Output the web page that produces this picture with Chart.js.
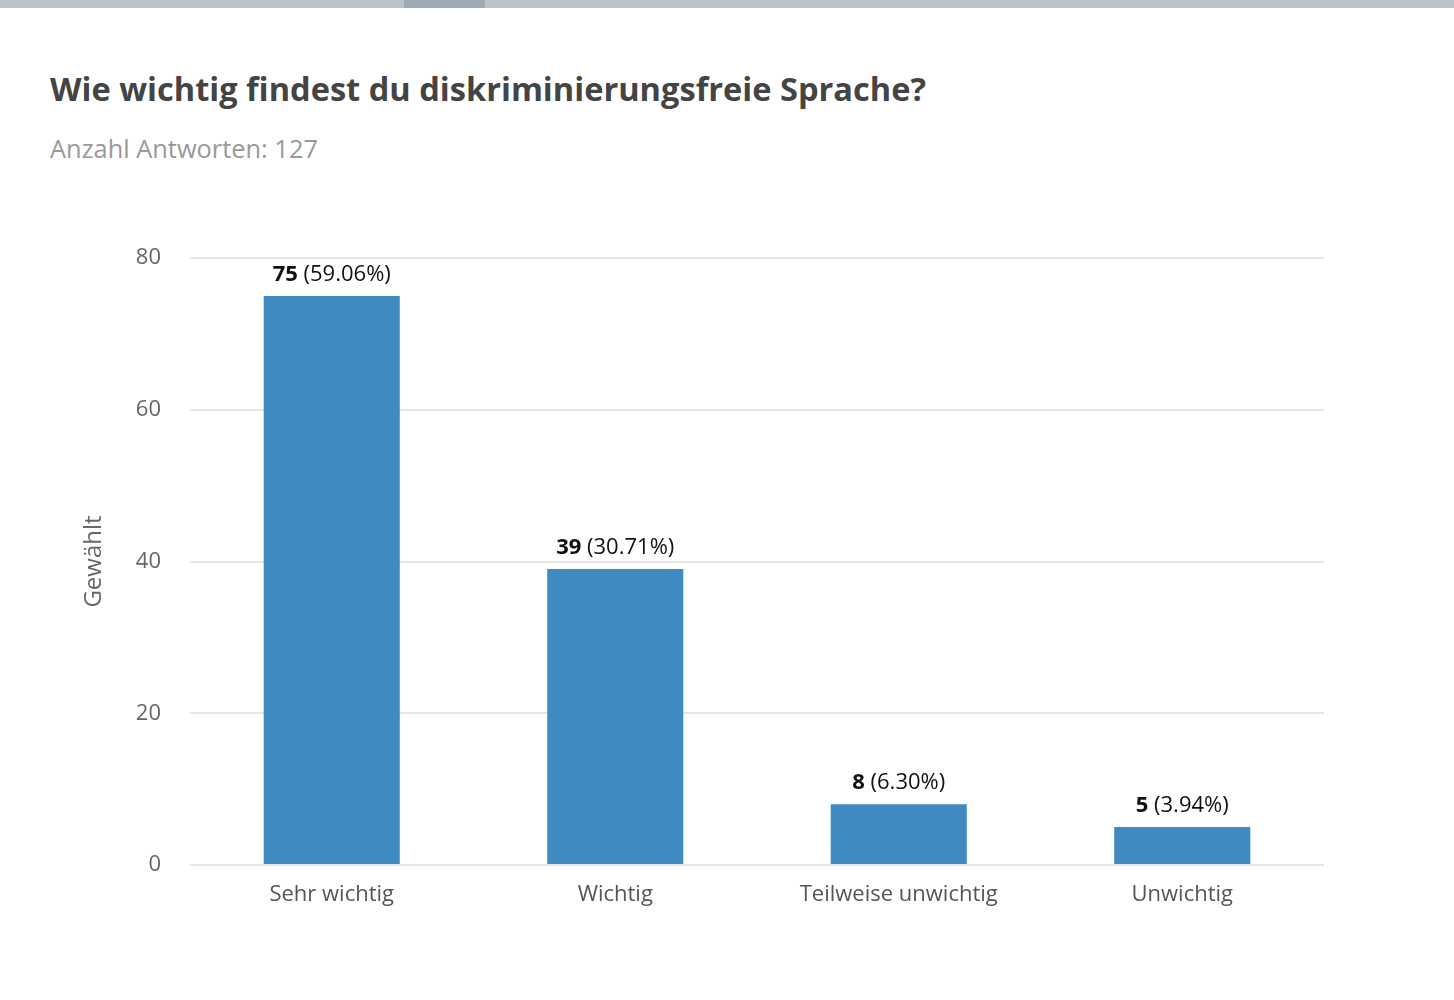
<!DOCTYPE html>
<html>
<head>
<meta charset="utf-8">
<script src="https://cdn.jsdelivr.net/npm/chart.js@4/dist/chart.umd.min.js"></script>
<style>
  body { margin: 0; background: #fff; font-family: "Open Sans", sans-serif; }
  #page { position: relative; width: 1454px; height: 1000px; overflow: hidden; }
  #topbar { position: absolute; left: 0; top: 0; width: 1454px; height: 8px; background: #b9c3c9; }
  #topbar div { position: absolute; left: 404px; top: 0; width: 81px; height: 8px; background: #9fabb4; }
  #title { position: absolute; left: 50px; top: 66px; font-size: 32.6px; font-weight: 700; color: #444; white-space: nowrap; }
  #subtitle { position: absolute; left: 50px; top: 131px; font-size: 25.4px; color: #999; white-space: nowrap; }
  #wrap { position: absolute; left: 0; top: 200px; width: 1454px; height: 760px; }
</style>
</head>
<body>
<div id="page">
  <div id="topbar"><div></div></div>
  <div id="title">Wie wichtig findest du diskriminierungsfreie Sprache?</div>
  <div id="subtitle">Anzahl Antworten: 127</div>
  <div id="wrap"><canvas id="myChart"></canvas></div>
</div>
<script>
// answers and counts
const categories = ['Sehr wichtig', 'Wichtig', 'Teilweise unwichtig', 'Unwichtig'];
const counts = [75, 39, 8, 5];
const percentLabels = ['59.06%', '30.71%', '6.30%', '3.94%'];
const yTicks = [0, 20, 40, 60, 80];

// value labels above the bars: bold count + normal percentage
const barLabels = {
    id: 'barLabels',
    afterDatasetsDraw(chart) {
        const ctx = chart.ctx;
        const meta = chart.getDatasetMeta(0);
        ctx.save();
        ctx.textBaseline = 'alphabetic';
        ctx.textAlign = 'left';
        ctx.fillStyle = '#111';
        meta.data.forEach((bar, i) => {
            const boldText = String(counts[i]);
            const normText = ' (' + percentLabels[i] + ')';
            ctx.font = 'bold 22px "Open Sans"';
            const w1 = ctx.measureText(boldText).width;
            ctx.font = '22px "Open Sans"';
            const w2 = ctx.measureText(normText).width;
            const x0 = bar.x - (w1 + w2) / 2;
            const y = bar.y - 15;
            ctx.font = 'bold 22px "Open Sans"';
            ctx.fillText(boldText, x0, y);
            ctx.font = '22px "Open Sans"';
            ctx.fillText(normText, x0 + w1, y);
        });
        ctx.restore();
    }
};

const ctx = document.getElementById('myChart').getContext('2d');
new Chart(ctx, {
    type: 'bar',
    data: {
        labels: categories,
        datasets: [{
            label: 'Gewählt',
            data: counts,
            backgroundColor: '#3f8bc1',
            barPercentage: 0.6,
            categoryPercentage: 0.8
        }]
    },
    options: {
        responsive: true,
        maintainAspectRatio: false,
        animation: false,
        layout: { padding: { left: 80, right: 130, top: 58, bottom: 35 } },
        plugins: {
            legend: { display: false },
            tooltip: { enabled: false }
        },
        scales: {
            x: {
                grid: { display: false, drawTicks: false },
                border: { display: false },
                ticks: { color: '#555', font: { family: 'Open Sans', size: 22 }, padding: 17 },
                afterFit: scale => { scale.height = 60; }
            },
            y: {
                min: 0,
                max: 80,
                afterBuildTicks: scale => { scale.ticks = yTicks.map(v => ({ value: v })); },
                grid: { color: '#e6e6e6', lineWidth: 2, drawTicks: false },
                border: { display: false },
                ticks: { color: '#666', font: { family: 'Open Sans', size: 22 }, padding: 29 },
                title: {
                    display: true,
                    text: 'Gewählt',
                    color: '#666',
                    font: { family: 'Open Sans', size: 24 },
                    padding: { top: 0, bottom: 0 }
                },
                afterFit: scale => { scale.width = 110; }
            }
        }
    },
    plugins: [barLabels]
});
</script>
</body>
</html>
